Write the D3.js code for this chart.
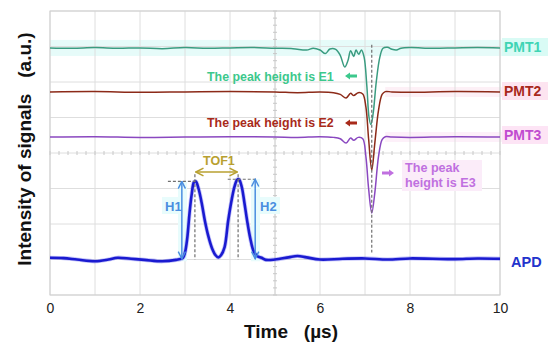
<!DOCTYPE html>
<html>
<head>
<meta charset="utf-8">
<script src="https://cdnjs.cloudflare.com/ajax/libs/d3/7.8.5/d3.min.js"></script>
<style>
body{margin:0;background:#fff;}
text{font-family:"Liberation Sans",Arial,sans-serif;}
.lbl{font-weight:bold;}
</style>
</head>
<body>
<div id="chart"></div>
<script>
// tick labels on the time axis (µs)
var xTicks = [0, 2, 4, 6, 8, 10];

// traces: [time µs, level in screen divisions]
var pmt1 = [[0,6.96],[0.5,6.95],[1,6.97],[1.5,6.95],[2,6.96],[2.5,6.94],[3,6.97],[3.5,6.95],[4,6.96],[4.5,6.97],
  [5,6.95],[5.4,6.94],[5.7,6.9],[5.85,6.95],[6.0,6.9],[6.12,6.8],[6.22,6.93],[6.35,6.92],[6.45,6.75],[6.55,6.42],
  [6.62,6.6],[6.68,6.88],[6.75,6.72],[6.8,6.9],[6.86,6.78],[6.92,6.9],[6.98,6.7],[7.04,5.9],[7.09,5.0],[7.13,4.8],
  [7.18,5.1],[7.25,6.0],[7.33,6.7],[7.4,6.95],[7.5,6.98],[7.6,6.92],[7.7,6.9],[7.8,6.95],[8,6.97],[8.5,6.95],
  [9,6.96],[9.5,6.97],[10,6.96]];
var pmt2 = [[0,5.72],[1,5.73],[2,5.71],[3,5.72],[4,5.73],[5,5.72],[5.5,5.7],[6.0,5.72],[6.3,5.7],[6.45,5.65],
  [6.58,5.55],[6.68,5.68],[6.75,5.62],[6.85,5.7],[6.95,5.66],[7.02,5.3],[7.08,4.4],[7.15,3.52],[7.22,4.3],
  [7.3,5.2],[7.38,5.65],[7.45,5.73],[7.6,5.72],[8,5.71],[9,5.73],[10,5.72]];
var pmt3 = [[0,4.45],[1,4.46],[2,4.44],[3,4.45],[4,4.46],[5,4.45],[5.5,4.44],[6.0,4.46],[6.3,4.44],[6.45,4.4],
  [6.58,4.28],[6.68,4.42],[6.75,4.36],[6.85,4.44],[6.95,4.4],[7.02,3.9],[7.08,3.0],[7.15,2.31],[7.22,2.9],
  [7.3,3.9],[7.38,4.38],[7.45,4.46],[7.6,4.45],[8,4.44],[9,4.46],[10,4.45]];
var apd = [[0,1.05],[0.3,1.04],[0.6,1.0],[1.0,0.95],[1.3,1.0],[1.5,1.05],[1.8,1.02],[2.1,0.99],[2.5,0.95],
  [2.8,0.99],[2.95,1.04],[3.0,1.2],[3.05,1.6],[3.1,2.3],[3.15,2.85],[3.2,3.18],[3.24,3.2],[3.3,3.0],[3.37,2.6],
  [3.44,2.1],[3.52,1.65],[3.6,1.32],[3.68,1.12],[3.74,1.06],[3.8,1.12],[3.88,1.35],[3.96,2.1],[4.04,2.7],
  [4.1,3.05],[4.16,3.25],[4.2,3.26],[4.26,3.05],[4.32,2.6],[4.38,2.1],[4.45,1.6],[4.52,1.25],[4.6,1.1],
  [4.7,1.05],[4.8,0.99],[5.0,1.0],[5.3,1.06],[5.5,1.1],[5.7,1.06],[6.0,1.0],[6.5,1.02],[7,1.03],[7.5,1.0],
  [8,1.03],[8.5,1.02],[9,1.01],[9.5,1.03],[10,1.02]];

var w = 550, h = 351;
var x = d3.scaleLinear().domain([0, 10]).range([50, 500]);
var y = d3.scaleLinear().domain([0, 8]).range([295, 11]);

var svg = d3.select("#chart").append("svg")
    .attr("width", w)
    .attr("height", h);

var defs = svg.append("defs");
function vHead(id, color) {
  defs.append("marker").attr("id", id)
    .attr("viewBox", "0 0 10 10").attr("refX", 9).attr("refY", 5)
    .attr("markerWidth", 6).attr("markerHeight", 6).attr("orient", "auto-start-reverse")
    .append("path").attr("d", "M1,1 L9,5 L1,9").attr("fill", "none")
    .attr("stroke", color).attr("stroke-width", 1.6);
}
vHead("hOlive", "#b8a030");
vHead("hBlue", "#4a8ee0");

// highlight bands (the source figure has them)
svg.append("rect").attr("x", 50).attr("y", y(6.96) - 8).attr("width", 497).attr("height", 16).attr("fill", "#e6fbf9");
svg.append("rect").attr("x", x(7.45)).attr("y", y(5.72) - 5).attr("width", 547 - x(7.45)).attr("height", 10).attr("fill", "#fdf0f6");
svg.append("rect").attr("x", x(7.45)).attr("y", y(4.45) - 5).attr("width", 547 - x(7.45)).attr("height", 10).attr("fill", "#fdf0f9");

// grid
var grid = svg.append("g");
grid.selectAll("line.v").data(x.ticks(10)).enter().append("line")
  .attr("x1", function(d) { return x(d); }).attr("x2", function(d) { return x(d); })
  .attr("y1", y(0)).attr("y2", y(8))
  .attr("stroke", function(d) { return d == 5 ? "#c4c4c4" : "#dedede"; }).attr("stroke-width", 1);
grid.selectAll("line.h").data(y.ticks(8)).enter().append("line")
  .attr("x1", x(0)).attr("x2", x(10))
  .attr("y1", function(d) { return y(d); }).attr("y2", function(d) { return y(d); })
  .attr("stroke", "#dedede").attr("stroke-width", 1);
// minor ticks along the centre lines
grid.selectAll("line.mx").data(x.ticks(50)).enter().append("line")
  .attr("x1", function(d) { return x(d); }).attr("x2", function(d) { return x(d); })
  .attr("y1", y(4) - 2).attr("y2", y(4) + 2).attr("stroke", "#c8c8c8");
grid.selectAll("line.my").data(y.ticks(40)).enter().append("line")
  .attr("x1", x(5) - 2).attr("x2", x(5) + 2)
  .attr("y1", function(d) { return y(d); }).attr("y2", function(d) { return y(d); })
  .attr("stroke", "#c8c8c8");
svg.append("rect").attr("x", x(0)).attr("y", y(8)).attr("width", x(10) - x(0)).attr("height", y(0) - y(8))
  .attr("fill", "none").attr("stroke", "#cfcfcf");

// light cyan patches around H1 / H2
svg.append("rect").attr("x", 162).attr("y", 197).attr("width", 20).attr("height", 17).attr("fill", "#e8fcfc");
svg.append("rect").attr("x", 178).attr("y", y(3.2)).attr("width", 9).attr("height", y(0.95) - y(3.2)).attr("fill", "#e8fcfc");
svg.append("rect").attr("x", 258).attr("y", 197).attr("width", 22).attr("height", 17).attr("fill", "#e8fcfc");
svg.append("rect").attr("x", 251).attr("y", y(3.26)).attr("width", 9).attr("height", y(0.95) - y(3.26)).attr("fill", "#e8fcfc");

// traces
var line = d3.line()
  .x(function(d) { return x(d[0]); })
  .y(function(d) { return y(d[1]); })
  .curve(d3.curveCatmullRom.alpha(0.5));

svg.append("path").datum(pmt1).attr("d", line).attr("fill", "none").attr("stroke", "#3a9c80").attr("stroke-width", 1.5);
svg.append("path").datum(pmt2).attr("d", line).attr("fill", "none").attr("stroke", "#8c2a18").attr("stroke-width", 1.5);
svg.append("path").datum(pmt3).attr("d", line).attr("fill", "none").attr("stroke", "#8a48c0").attr("stroke-width", 1.5);
svg.append("path").datum(apd).attr("d", line).attr("fill", "none").attr("stroke", "#5a5af0").attr("stroke-width", 4.2).attr("opacity", 0.35);
svg.append("path").datum(apd).attr("d", line).attr("fill", "none").attr("stroke", "#1a1ad0").attr("stroke-width", 2.6);

// dashed guides
function dash(x1, y1, x2, y2) {
  svg.append("line").attr("x1", x1).attr("y1", y1).attr("x2", x2).attr("y2", y2)
    .attr("stroke", "#707070").attr("stroke-width", 1.2).attr("stroke-dasharray", "3,2");
}
dash(x(7.15), y(7.05), x(7.15), y(1.2));
dash(x(3.22), y(3.4), x(3.22), y(1.0));
dash(x(4.18), y(3.4), x(4.18), y(1.0));
dash(x(2.62), y(3.2), x(3.22), y(3.2));
dash(x(3.95), y(3.26), x(4.6), y(3.26));

// double arrows
svg.append("line").attr("x1", x(3.24)).attr("x2", x(4.16)).attr("y1", 172).attr("y2", 172)
  .attr("stroke", "#b8a030").attr("stroke-width", 1.6)
  .attr("marker-start", "url(#hOlive)").attr("marker-end", "url(#hOlive)");
[[2.93, 3.2], [4.56, 3.26]].forEach(function(a) {
  svg.append("line").attr("x1", x(a[0])).attr("x2", x(a[0])).attr("y1", y(a[1])).attr("y2", y(1.02))
    .attr("stroke", "#4a8ee0").attr("stroke-width", 1.5)
    .attr("marker-start", "url(#hBlue)").attr("marker-end", "url(#hBlue)");
});

// block arrows next to the E labels
function blockArrow(cx, cy, dir, color) {
  var p = "M" + (cx - 6 * dir) + "," + (cy - 1.6) + " L" + (cx + 1 * dir) + "," + (cy - 1.6) +
    " L" + (cx + 1 * dir) + "," + (cy - 3.5) + " L" + (cx + 6 * dir) + "," + cy +
    " L" + (cx + 1 * dir) + "," + (cy + 3.5) + " L" + (cx + 1 * dir) + "," + (cy + 1.6) +
    " L" + (cx - 6 * dir) + "," + (cy + 1.6) + "Z";
  svg.append("path").attr("d", p).attr("fill", color);
}
blockArrow(351, 76, -1, "#3cc88c");
blockArrow(351, 123, -1, "#a82a1a");
blockArrow(388, 173, 1, "#c070e0");

// label backgrounds
svg.append("rect").attr("x", 502).attr("y", 38).attr("width", 46).attr("height", 18).attr("fill", "#d9fbf5");
svg.append("rect").attr("x", 502).attr("y", 82).attr("width", 46).attr("height", 18).attr("fill", "#fde4f0");
svg.append("rect").attr("x", 502).attr("y", 126).attr("width", 46).attr("height", 18).attr("fill", "#fde4f5");
svg.append("rect").attr("x", 402).attr("y", 160).attr("width", 80).attr("height", 31).attr("fill", "#fbecf9");

function label(t, px, py, size, color, anchor) {
  return svg.append("text").attr("class", "lbl").attr("x", px).attr("y", py)
    .attr("font-size", size).attr("fill", color).attr("text-anchor", anchor || "start").text(t);
}
label("PMT1", 504, 52, 14, "#40d4b4");
label("PMT2", 504, 96, 14, "#a8281c");
label("PMT3", 504, 140, 14, "#c04cd0");
label("APD", 511, 267, 14.5, "#2233cc");
label("The peak height is E1", 207, 81, 12.4, "#3cc88c");
label("The peak height is E2", 207, 127, 12.4, "#a82a1a");
label("The peak", 405, 172, 12.6, "#c070e0");
label("height is E3", 405, 187, 12.6, "#c070e0");
label("TOF1", 203, 165, 12.5, "#b8a030");
label("H1", 165, 211, 13, "#4a8ee0");
label("H2", 260, 211, 13, "#4a8ee0");

// axis
var xAxis = d3.axisBottom(x).tickValues(xTicks).tickSize(0).tickPadding(8);
var gx = svg.append("g").attr("transform", "translate(0," + y(0) + ")").call(xAxis);
gx.select(".domain").remove();
gx.selectAll("text").attr("font-size", 14).attr("fill", "#222")
  .attr("font-family", '"Liberation Sans",Arial,sans-serif');

svg.append("text").attr("class", "lbl").attr("x", 291).attr("y", 338)
  .attr("text-anchor", "middle").attr("font-size", 19).attr("fill", "#111")
  .style("white-space", "pre").text("Time   (µs)");
svg.append("text").attr("class", "lbl")
  .attr("transform", "translate(31,149) rotate(-90)")
  .attr("text-anchor", "middle").attr("font-size", 19).attr("fill", "#111")
  .style("white-space", "pre").text("Intensity of signals   (a.u.)");
</script>
</body>
</html>
